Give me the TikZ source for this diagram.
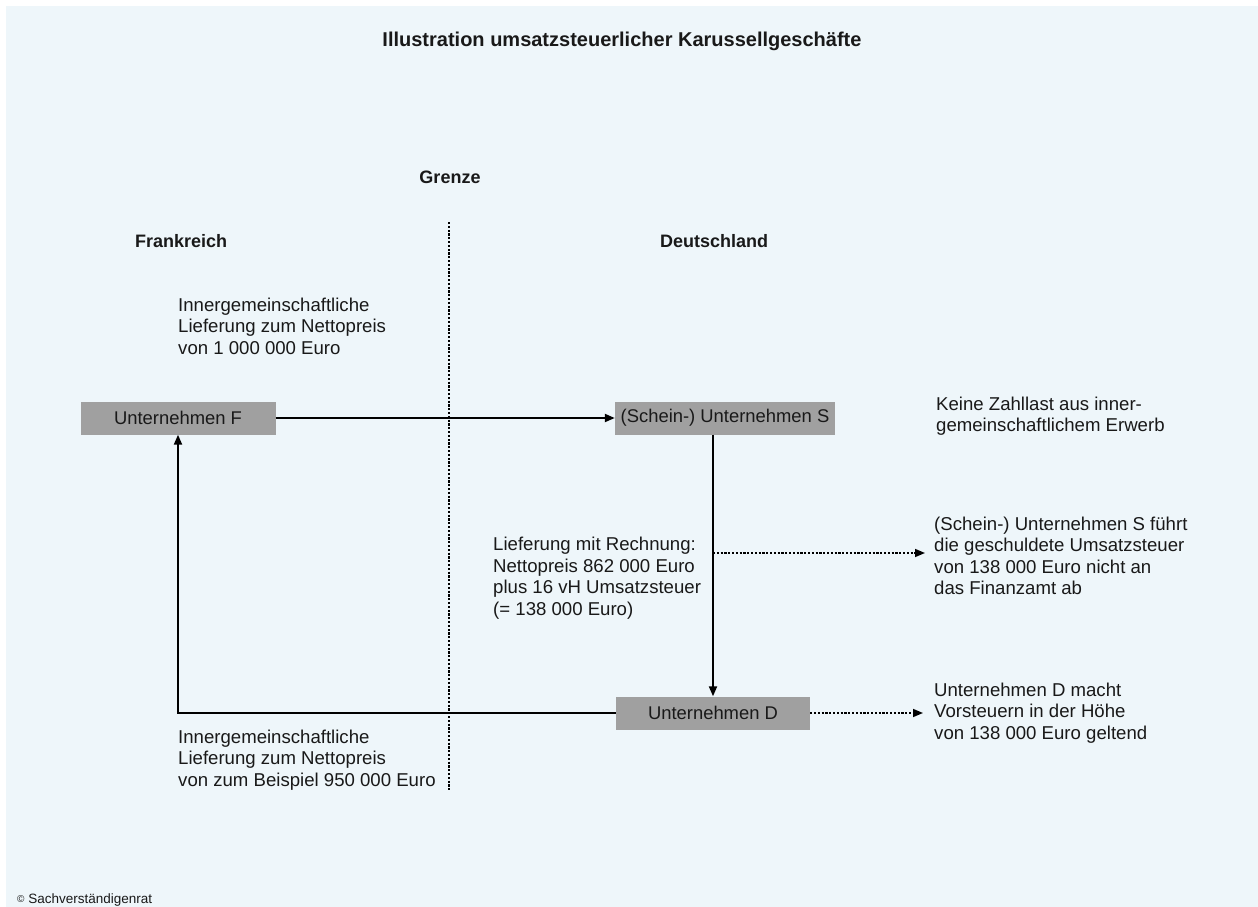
\documentclass[tikz,border=0pt]{standalone}
\usepackage{fontspec}
\setmainfont{Liberation Sans}
\usetikzlibrary{arrows.meta}
\definecolor{bgblue}{RGB}{238,246,250}
\definecolor{boxgray}{RGB}{160,160,160}
\definecolor{txt}{RGB}{25,25,25}
\tikzset{
  firm/.style={fill=boxgray, minimum height=33pt, inner sep=0pt, text=txt,
    font=\fontsize{18.4}{21}\selectfont},
  note/.style={anchor=west, align=left, inner sep=0pt, text=txt,
    font=\fontsize{18.6}{21.5}\selectfont},
  head/.style={inner sep=0pt, text=txt, font=\fontsize{18}{21}\selectfont\bfseries},
  flow/.style={line width=2pt, -{Triangle[length=10pt,width=8pt]}},
  dotflow/.style={line width=1.6pt, dash pattern=on 2.2pt off 1.6pt, -{Triangle[length=10pt,width=8pt]}},
  border/.style={line width=1.6pt, dash pattern=on 2.2pt off 1.6pt}
}
\begin{document}
\begin{tikzpicture}[x=1pt,y=-1pt]
\useasboundingbox (0,0) rectangle (1258,907);
\fill[bgblue] (6,6) rectangle (1258,907);

% headings
\node[head, font=\fontsize{20}{24}\selectfont\bfseries] (title) at (622,41) {Illustration umsatzsteuerlicher Karussellgeschäfte};
\node[head] (grenze) at (450,177) {Grenze};
\node[head, anchor=west] (fr) at (135,241) {Frankreich};
\node[head, anchor=west] (de) at (660,241) {Deutschland};

% border
\coordinate (btop) at (449,222);
\coordinate (bbot) at (449,790);
\draw[border] (btop) -- (bbot);

% firms
\node[firm, minimum width=195pt] (F) at (178,418) {Unternehmen F};
\node[firm, minimum width=220pt] (S) at (725,418) {(Schein-) Unternehmen S};
\node[firm, minimum width=194pt] (D) at (713,713) {Unternehmen D};

% notes
\node[note] (n1) at (178,326) {Innergemeinschaftliche\\Lieferung zum Nettopreis\\von 1 000 000 Euro};
\node[note] (n2) at (936,416) {Keine Zahllast aus inner-\\gemeinschaftlichem Erwerb};
\node[note] (n3) at (493,578) {Lieferung mit Rechnung:\\Nettopreis 862 000 Euro\\plus 16 vH Umsatzsteuer\\(= 138 000 Euro)};
\node[note] (n4) at (934,556) {(Schein-) Unternehmen S führt\\die geschuldete Umsatzsteuer\\von 138 000 Euro nicht an\\das Finanzamt ab};
\node[note] (n5) at (934,713) {Unternehmen D macht\\Vorsteuern in der Höhe\\von 138 000 Euro geltend};
\node[note] (n6) at (178,760) {Innergemeinschaftliche\\Lieferung zum Nettopreis\\von zum Beispiel 950 000 Euro};

% connectors
\draw[flow] (F.east) -- (F.east -| S.west);
\draw[flow] (D.north |- S.south) -- (D.north);
\coordinate (corner) at (F.south |- D.west);
\draw[flow] (D.west) -- (corner) -- (F.south);
\coordinate (tap) at (713,553);
\coordinate (tapend) at (925,553);
\draw[dotflow] (tap) -- (tapend);
\coordinate (dend) at (923,713);
\draw[dotflow] (D.east) -- (dend);

% copyright
\node[anchor=west, inner sep=0pt, text=txt, font=\fontsize{13.5}{15}\selectfont] (copy) at (17,900) {\raisebox{0.2ex}{\fontsize{10}{12}\selectfont ©} Sachverständigenrat};
\end{tikzpicture}
\end{document}
